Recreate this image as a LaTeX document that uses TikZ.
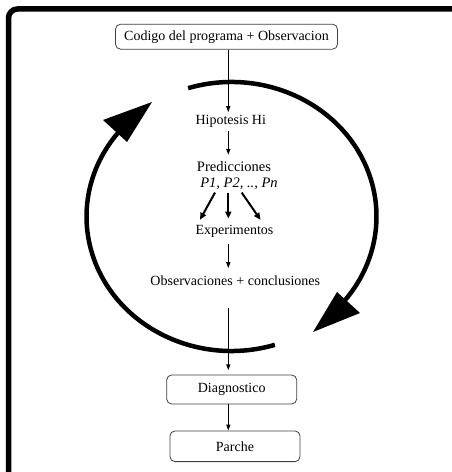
\documentclass[tikz,border=0pt]{standalone}
\usepackage{fontspec}
\setmainfont{Liberation Serif}
\usetikzlibrary{arrows.meta,calc}
\begin{document}
\begin{tikzpicture}[x=1pt,y=1pt,
  txt/.style={inner sep=3pt, text height=9.5pt, text depth=3pt, font=\fontsize{14}{16}\selectfont},
  twoline/.style={inner sep=0pt, align=center, font=\fontsize{14.5}{15.5}\selectfont},
  boxed/.style={draw=black!75, line width=0.8pt, rounded corners=5pt, inner sep=0pt, font=\fontsize{14}{16}\selectfont},
  flow/.style={line width=1.2pt, -{Triangle[length=6pt,width=4pt]}},
  fan/.style={line width=2pt, -{Triangle[length=7pt,width=6pt]}},
  cyc/.style={line width=4.5pt},
  framebox/.style={line width=5.5pt, rounded corners=9pt}]
\useasboundingbox (0,0) rectangle (452,472);
% outer frame (cut by the page at right and bottom)
\draw[framebox] (8.5,-20) -- (8.5,463) -- (480,463);

% cycle
\coordinate (C) at (231.5,255.5);
\draw[cyc] ($(C)+(107.4:145 and 134.5)$) arc[start angle=107.4, end angle=-38.4, x radius=145, y radius=134.5];
\fill (313,140) -- (337,180) -- (360,159) -- cycle;
\draw[cyc] ($(C)+(-72.6:145 and 134.5)$) arc[start angle=-72.6, end angle=-218.4, x radius=145, y radius=134.5];
\fill (152,370) -- (103,352) -- (127,330) -- cycle;

% nodes
\node[boxed, minimum width=222pt, minimum height=25pt] (top) at (226.5,435.3) {Codigo del programa + Observacion};
\node[txt] (hip) at (230.8,350.3) {Hipotesis Hi};
\node[twoline, anchor=north] (pred) at (234,310.6) {Predicciones\\\hspace*{10pt}\textit{P1, P2, .., Pn}};
\node[txt] (exp) at (234.5,241) {Experimentos};
\node[txt] (obs) at (235.3,189.3) {Observaciones + conclusiones};
\node[boxed, minimum width=130pt, minimum height=29pt] (diag) at (231.7,82.5) {Diagnostico};
\node[boxed, minimum width=130pt, minimum height=30.7pt] (parche) at (235,25.7) {Parche};

% connectors
\coordinate (ax) at (228.3,0);
\coordinate (fanstart) at ($(pred.south -| ax)+(0,-3)$);
\draw[flow] (top.south -| ax) -- (hip.north -| ax);
\draw[flow, shorten >=6.5pt] (hip.south -| ax) -- (pred.north -| ax);
\draw[fan, shorten >=2pt] ($(fanstart)+(-13.3,0)$) -- ($(exp.north -| ax)+(-29.3,0)$);
\draw[fan, shorten >=3pt] (fanstart) -- (exp.north -| ax);
\draw[fan, shorten >=2pt] ($(fanstart)+(13.4,0)$) -- ($(exp.north -| ax)+(33.4,0)$);
\draw[flow, shorten <=4pt, shorten >=5pt] (exp.south -| ax) -- (obs.north -| ax);
\draw[flow, shorten <=16pt, shorten >=4.3pt] (obs.south -| ax) -- (diag.north -| ax);
\draw[flow] (diag.south -| ax) -- (parche.north -| ax);
\end{tikzpicture}
\end{document}
